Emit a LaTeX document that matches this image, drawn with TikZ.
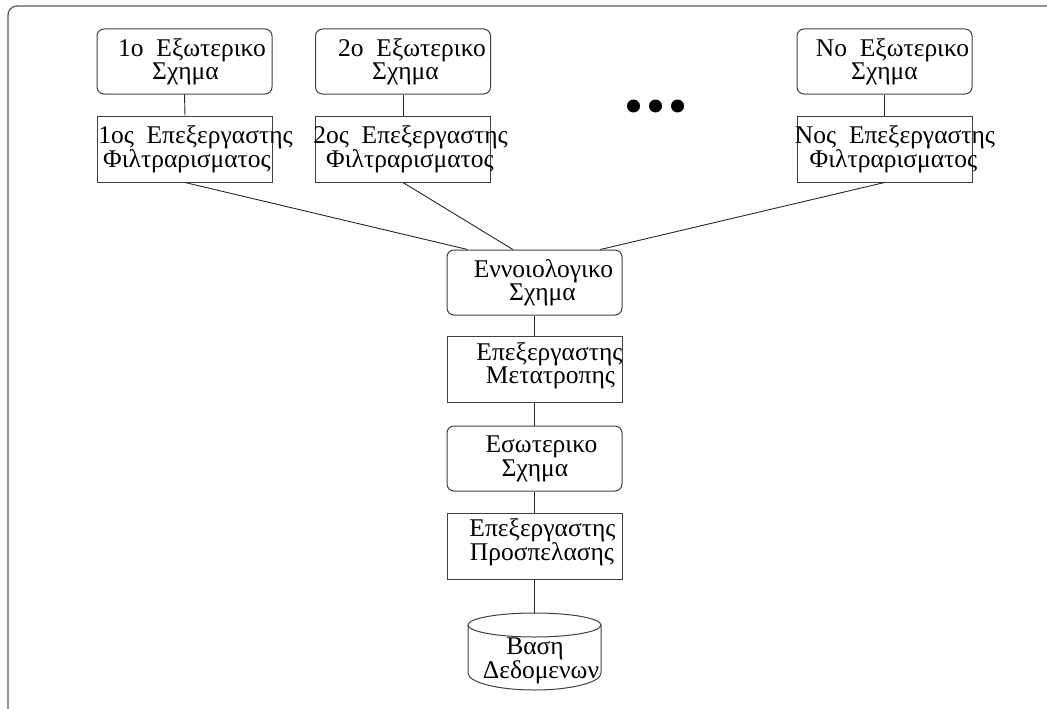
\documentclass[tikz,border=0pt]{standalone}
\usepackage{fontspec}
\setmainfont{Liberation Serif}
\usetikzlibrary{calc}
\begin{document}
\begin{tikzpicture}[x=1pt,y=-1pt,
  frame/.style={draw=black!75, line width=1pt},
  rbox/.style={frame, rounded corners=7pt, minimum width=175pt, minimum height=65pt, inner sep=0pt},
  sbox/.style={frame, minimum width=175pt, minimum height=66pt, inner sep=0pt},
  txt/.style={font=\fontsize{25.5}{26}\selectfont, inner sep=0pt, anchor=base},
  link/.style={draw=black!85, line width=0.9pt}]
\useasboundingbox (0,0) rectangle (1047,709);
\clip (0,0) rectangle (1047,709);

% outer frame (runs past the lower and right page edges)
\draw[draw=black!65, line width=1.3pt, rounded corners=9pt] (8,6) rectangle (1090,750);

% external schemas
\node[rbox] (e1) at (184.5,61.5) {};
\node[rbox] (e2) at (403,61.5) {};
\node[rbox] (eN) at (884.5,61.5) {};
\node[txt] (e1a) at (192,57) {1ο\ \ Εξωτερικο};
\node[txt] (e1b) at (185.5,80) {Σχημα};
\node[txt] (e2a) at (412,57) {2ο\ \ Εξωτερικο};
\node[txt] (e2b) at (405.5,80) {Σχημα};
\node[txt] (eNa) at (892.5,57) {Νο\ \ Εξωτερικο};
\node[txt] (eNb) at (884.5,80) {Σχημα};

% filter processors
\node[sbox] (f1) at (185,149) {};
\node[sbox] (f2) at (403,149) {};
\node[sbox] (fN) at (884.5,149) {};
\node[txt] (f1a) at (195.5,143) {1ος\ \ Επεξεργαστης};
\node[txt] (f1b) at (187,167) {Φιλτραρισματος};
\node[txt] (f2a) at (410.5,143) {2ος\ \ Επεξεργαστης};
\node[txt] (f2b) at (410,167) {Φιλτραρισματος};
\node[txt] (fNa) at (895,143) {Νος\ \ Επεξεργαστης};
\node[txt] (fNb) at (893.5,167) {Φιλτραρισματος};

% ellipsis between the external schemas
\fill (633.5,106) circle (6.5pt);
\fill (655.5,106) circle (6.5pt);
\fill (677.5,106) circle (6.5pt);

% central column
\node[rbox] (conc) at (534.5,282.5) {};
\node[txt] (conca) at (543.5,277) {Εννοιολογικο};
\node[txt] (concb) at (542.5,300) {Σχημα};

\node[sbox] (conv) at (534.5,369.5) {};
\node[txt] (conva) at (549.5,360) {Επεξεργαστης};
\node[txt] (convb) at (550.5,383) {Μετατροπης};

\node[rbox] (int) at (534.5,458.5) {};
\node[txt] (inta) at (541.5,452) {Εσωτερικο};
\node[txt] (intb) at (535,476) {Σχημα};

\node[sbox] (acc) at (534.5,546) {};
\node[txt] (acca) at (542.5,536) {Επεξεργαστης};
\node[txt] (accb) at (542,560) {Προσπελασης};

% database drum
\node[inner sep=0pt, minimum width=133pt, minimum height=77pt] (db) at (534.5,651.5) {};
\draw[frame] (534.5,625) ellipse [x radius=66.5pt, y radius=12pt];
\draw[frame] (468,625) -- (468,673)
  arc[start angle=180, end angle=360, x radius=66.5pt, y radius=17pt]
  -- (601,625);
\node[txt, anchor=center, align=center, font=\fontsize{25.5}{21}\selectfont]
  (dbt) at (541,661) {Βαση\hspace*{12pt}\\Δεδομενων};

% connectors
\draw[link] (e1.south) -- (f1.north);
\draw[link] (e2.south) -- (f2.north);
\draw[link] (eN.south) -- (fN.north);
\draw[link] (f1.south) -- ($(conc.north west)!0.12!(conc.north east)$);
\draw[link] (f2.south) -- ($(conc.north west)!0.377!(conc.north east)$);
\draw[link] (fN.south) -- ($(conc.north west)!0.874!(conc.north east)$);
\draw[link] (conc.south) -- (conv.north);
\draw[link] (conv.south) -- (int.north);
\draw[link] (int.south) -- (acc.north);
\draw[link] (acc.south) -- (db.north);
\end{tikzpicture}
\end{document}
